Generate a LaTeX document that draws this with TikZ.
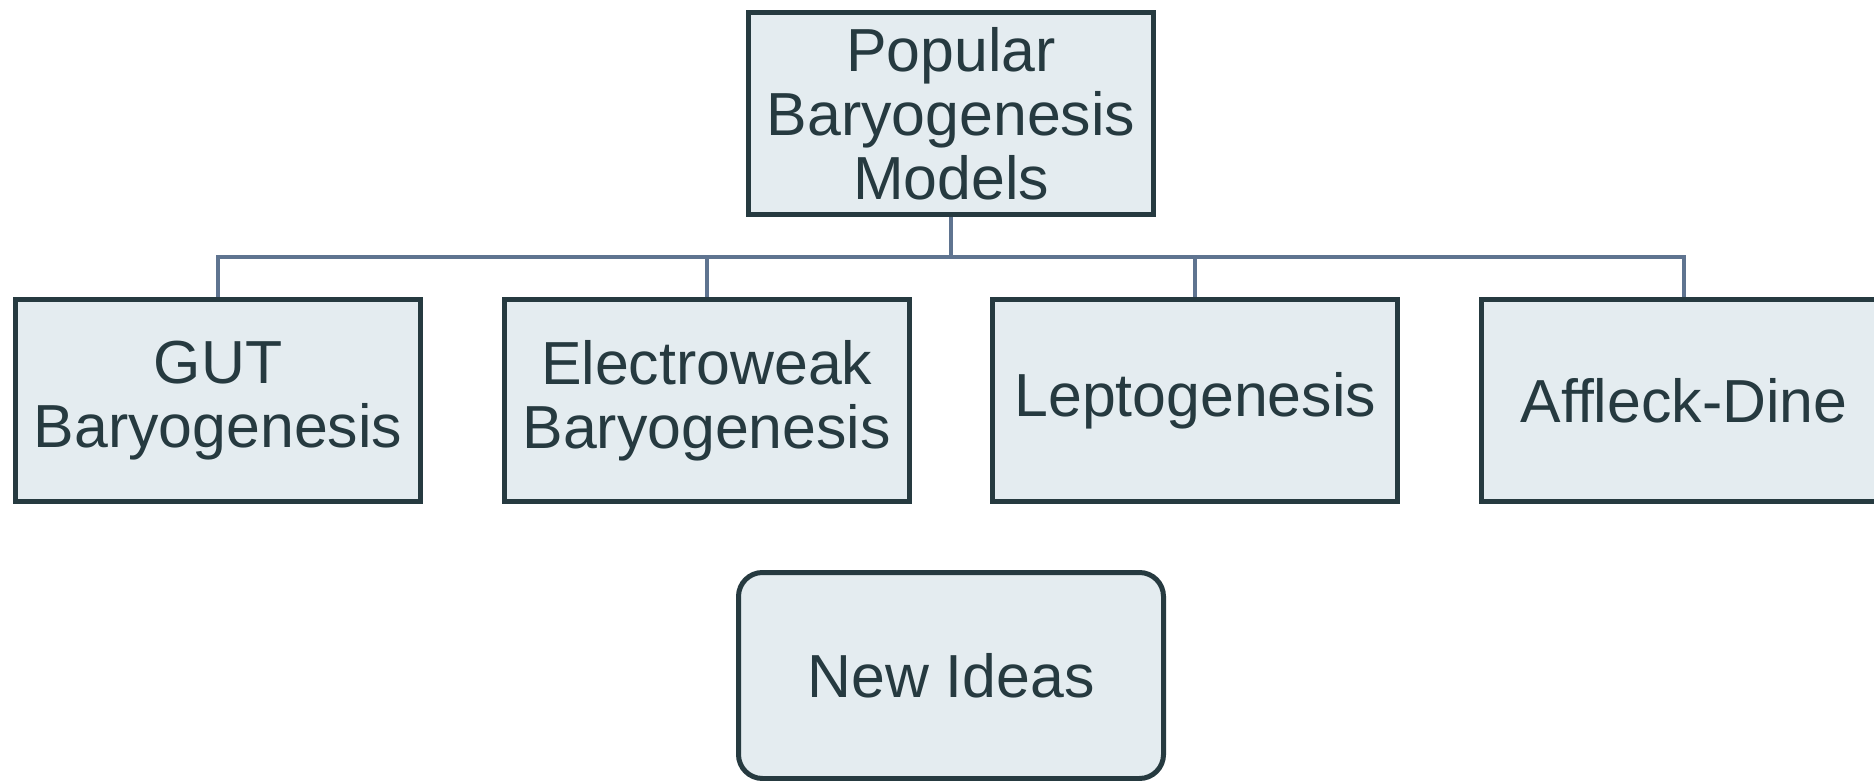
\documentclass[tikz,border=0pt]{standalone}
\usepackage{fontspec}
\setmainfont{Liberation Sans}
\definecolor{boxfill}{HTML}{E4ECF0}
\definecolor{boxline}{HTML}{263A40}
\definecolor{connline}{HTML}{5F7490}
\begin{document}
\begin{tikzpicture}[x=0.5pt,y=-0.5pt,
  box/.style={draw=boxline, fill=boxfill, line width=2.5pt, text=boxline,
    minimum width=202.5pt, minimum height=101pt, inner sep=0pt, align=center,
    font=\fontsize{30.4}{32}\selectfont},
  roundbox/.style={box, rounded corners=12pt},
  conn/.style={draw=connline, line width=2pt}]
\useasboundingbox (0,0) rectangle (1874,781);
\clip (0,0) rectangle (1874,781);
\fill[white] (0,0) rectangle (1874,781);
\coordinate (bus) at (951,256.7);
\node[box] (top) at (951,113.5) {Popular\\Baryogenesis\\Models};
\node[box] (gut) at (218,400.5) {GUT\\Baryogenesis};
\node[box] (ew) at (706.7,400.5) {Electroweak\\Baryogenesis};
\node[box] (lep) at (1195.3,400.5) {Leptogenesis};
\node[box] (ad) at (1684,400.5) {Affleck-Dine};
\node[roundbox, minimum width=212.5pt, minimum height=103pt] (new) at (951,675.5) {New Ideas};
\draw[conn] (top.south) -- (bus);
\draw[conn] (gut.north) |- (bus);
\draw[conn] (ew.north) |- (bus);
\draw[conn] (lep.north) |- (bus);
\draw[conn] (ad.north) |- (bus);
\end{tikzpicture}
\end{document}
